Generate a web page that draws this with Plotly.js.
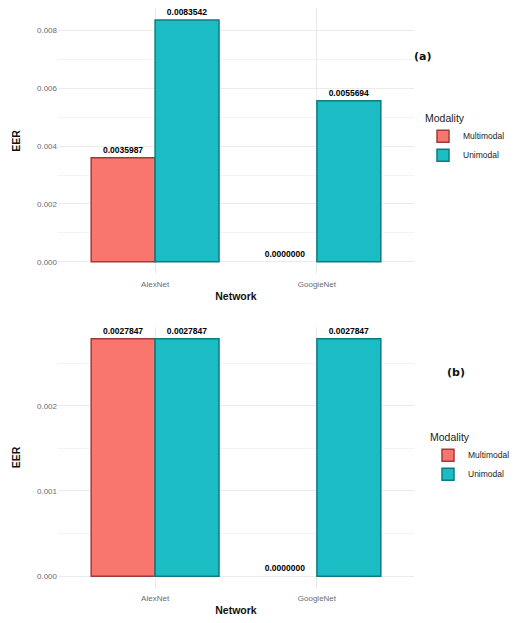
<!DOCTYPE html>
<html><head><meta charset="utf-8">
<script src="https://cdn.plot.ly/plotly-3.0.1.min.js"></script>
<style>html,body{margin:0;padding:0;background:#fff}</style>
</head><body>
<div id="chart" style="width:515px;height:623px"></div>
<script>
const networks = ["AlexNet", "GoogleNet"];
const modalities = ["Multimodal", "Unimodal"];
// (a)
const eerA_multimodal = [0.0035987, 0.0];
const eerA_unimodal   = [0.0083542, 0.0055694];
// (b)
const eerB_multimodal = [0.0027847, 0.0];
const eerB_unimodal   = [0.0027847, 0.0027847];

const fillColors = {Multimodal: "#F8766D", Unimodal: "#1BBCC4"};
const lineColors = {Multimodal: "#9e3d38", Unimodal: "#0b7d82"};
const FONT = "Liberation Sans, Arial, sans-serif";

function bar(name, y, xa, ya, leg) {
  return {
    type: "bar", name: name, x: networks, y: y, xaxis: xa, yaxis: ya,
    legend: leg, showlegend: true,
    marker: {color: fillColors[name],
             line: {color: lineColors[name], width: y.map(v => v === 0 ? 0 : 1.5)}},
    texttemplate: "%{y:.7f}", textposition: "outside", cliponaxis: false,
    textfont: {family: FONT, size: 8.5, color: "#000", weight: "bold"},
    hoverinfo: "skip"
  };
}

const data = [
  bar("Multimodal", eerA_multimodal, "x", "y", "legend"),
  bar("Unimodal", eerA_unimodal, "x", "y", "legend"),
  bar("Multimodal", eerB_multimodal, "x2", "y2", "legend2"),
  bar("Unimodal", eerB_unimodal, "x2", "y2", "legend2")
];

const xBase = {
  type: "category", range: [-0.6, 1.6], showgrid: true, gridcolor: "#ebebeb", gridwidth: 1,
  zeroline: false, showline: false, ticks: "", ticklen: 0, ticklabelstandoff: 4,
  tickfont: {family: FONT, size: 8, color: "#6b6b6b"},
  title: {text: "Network", font: {family: FONT, size: 10.5, color: "#111", weight: "bold"}, standoff: 4}
};
const yBase = {
  showgrid: true, gridcolor: "#ebebeb", gridwidth: 1, zeroline: false, showline: false,
  ticks: "", tickformat: ".3f",
  tickfont: {family: FONT, size: 8, color: "#6b6b6b"},
  title: {text: "EER", font: {family: FONT, size: 10.5, color: "#111", weight: "bold"}, standoff: 14}
};

const layout = {
  width: 515, height: 623,
  margin: {l: 0, r: 0, t: 0, b: 0},
  paper_bgcolor: "#fff", plot_bgcolor: "#fff",
  barmode: "group", bargap: 0.21, bargroupgap: 0,
  font: {family: FONT},
  xaxis: Object.assign({}, xBase, {domain: [58/515, 414/515], anchor: "y"}),
  yaxis: Object.assign({}, yBase, {domain: [1-274/623, 1-8/623], anchor: "x",
    range: [-0.00042, 0.00877], tickvals: [0, 0.002, 0.004, 0.006, 0.008],
    minor: {tickvals: [0.001, 0.003, 0.005, 0.007], showgrid: true, gridcolor: "#f3f3f3", ticks: ""}}),
  xaxis2: Object.assign({}, xBase, {domain: [58/515, 414/515], anchor: "y2"}),
  yaxis2: Object.assign({}, yBase, {domain: [1-588/623, 1-327/623], anchor: "x2",
    range: [-0.000139, 0.002924], tickvals: [0, 0.001, 0.002],
    minor: {tickvals: [0.0005, 0.0015, 0.0025], showgrid: true, gridcolor: "#f3f3f3", ticks: ""}}),
  legend: {
    x: 423/515, y: 1-108/623, xanchor: "left", yanchor: "top",
    title: {text: "Modality", font: {family: FONT, size: 10.5, color: "#222"}},
    font: {family: FONT, size: 8.5, color: "#222"}, traceorder: "normal",
    itemwidth: 30, tracegroupgap: 0, bgcolor: "rgba(0,0,0,0)"
  },
  legend2: {
    x: 428/515, y: 1-427/623, xanchor: "left", yanchor: "top",
    title: {text: "Modality", font: {family: FONT, size: 10.5, color: "#222"}},
    font: {family: FONT, size: 8.5, color: "#222"}, traceorder: "normal",
    itemwidth: 30, tracegroupgap: 0, bgcolor: "rgba(0,0,0,0)"
  },
  annotations: [
    {text: "<b>(a)</b>", x: 433/515, y: 1-48/623, xref: "paper", yref: "paper",
     showarrow: false, font: {family: "DejaVu Sans, sans-serif", size: 11, color: "#111"}},
    {text: "<b>(b)</b>", x: 467/515, y: 1-372/623, xref: "paper", yref: "paper",
     showarrow: false, font: {family: "DejaVu Sans, sans-serif", size: 11, color: "#111"}}
  ]
};

Plotly.newPlot("chart", data, layout, {displayModeBar: false, staticPlot: true});
</script>
</body></html>
